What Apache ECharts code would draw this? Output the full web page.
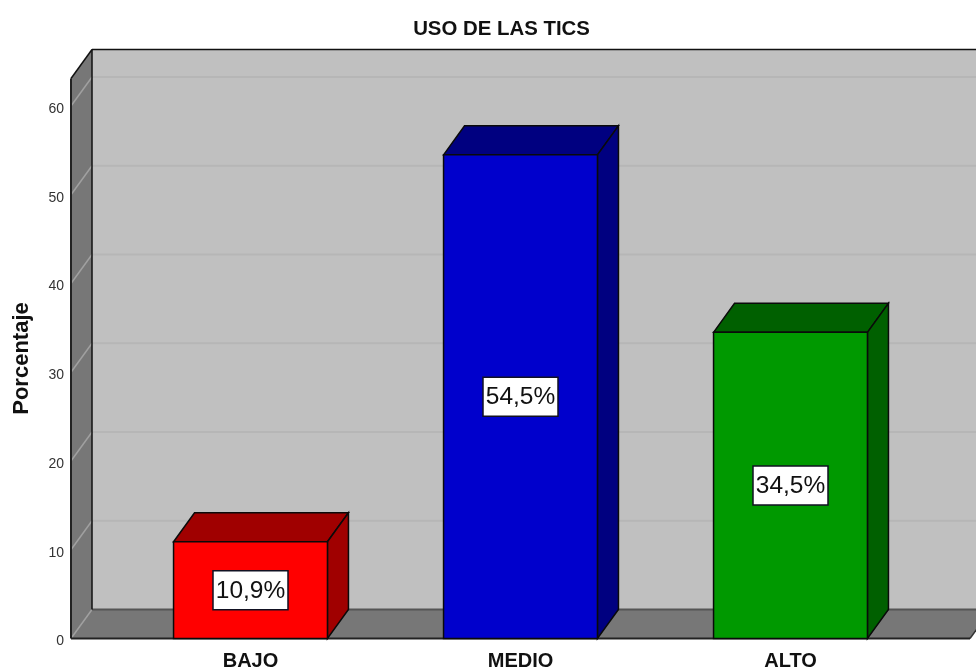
<!DOCTYPE html>
<html>
<head>
<meta charset="utf-8">
<style>html,body{margin:0;padding:0;background:#fff}#chart{width:976px;height:671px}</style>
<script src="https://cdn.jsdelivr.net/npm/echarts@6/dist/echarts.min.js"></script>
</head>
<body>
<div id="chart"></div>
<script>
const categories = ['BAJO', 'MEDIO', 'ALTO'];
const porcentajes = [10.9, 54.5, 34.5];
const etiquetas = ['10,9%', '54,5%', '34,5%'];
const yTicks = [0, 10, 20, 30, 40, 50, 60];
const yMax = 63.1;

// frente y techo/lateral de cada barra
const frontColors = ['#ff0000', '#0000cc', '#009900'];
const topColors = ['#a00000', '#000080', '#006000'];

const depthX = 21;
const depthY = -29;
const sideGap = 44.5; // el plano sobresale de las categorias

const poly = (points, fill, stroke, lineWidth) => ({
  type: 'polygon',
  shape: { points: points },
  style: { fill: fill, stroke: stroke || 'none', lineWidth: lineWidth || 0 }
});
const line = (a, b, stroke, lineWidth) => ({
  type: 'line',
  shape: { x1: a[0], y1: a[1], x2: b[0], y2: b[1] },
  style: { stroke: stroke, lineWidth: lineWidth }
});

const renderWalls = (params, api) => {
  const left = params.coordSys.x - sideGap;
  const right = params.coordSys.x + params.coordSys.width + sideGap;
  const y0 = api.coord([0, 0])[1];
  const yTop = api.coord([0, yMax])[1];
  const children = [
    poly([[left + depthX, yTop + depthY], [right + depthX, yTop + depthY], [right + depthX, y0 + depthY], [left + depthX, y0 + depthY]], '#c0c0c0'),
    poly([[left, yTop], [left + depthX, yTop + depthY], [left + depthX, y0 + depthY], [left, y0]], '#777777'),
    poly([[left, y0], [left + depthX, y0 + depthY], [right + depthX, y0 + depthY], [right, y0]], '#777777')
  ];
  yTicks.forEach((t) => {
    const y = api.coord([0, t])[1];
    if (t > 0) {
      children.push(line([left + depthX, y + depthY], [right + depthX, y + depthY], '#b6b6b6', 2));
    }
    children.push(line([left, y], [left + depthX, y + depthY], '#a0a0a0', 1.5));
  });
  children.push(
    line([left + depthX, y0 + depthY], [right + depthX, y0 + depthY], '#555555', 2),
    line([right, y0], [right + depthX, y0 + depthY], '#333333', 1.5),
    line([left, yTop], [left + depthX, yTop + depthY], '#111111', 1.5),
    line([left + depthX, yTop + depthY], [right + depthX, yTop + depthY], '#111111', 1.5),
    line([left + depthX, yTop + depthY], [left + depthX, y0 + depthY], '#111111', 1.5),
    line([left, yTop], [left, y0], '#222222', 2),
    line([left, y0], [right, y0], '#222222', 2)
  );
  return { type: 'group', children: children };
};

const renderBar = (params, api) => {
  const i = api.value(0);
  const top = api.coord([i, api.value(1)]);
  const base = api.coord([i, 0]);
  const half = api.size([1, 0])[0] * 0.57 / 2;
  const x1 = top[0] - half;
  const x2 = top[0] + half;
  const stroke = '#0a0a0a';
  return {
    type: 'group',
    children: [
      poly([[x1, top[1]], [x1 + depthX, top[1] + depthY], [x2 + depthX, top[1] + depthY], [x2, top[1]]], topColors[i], stroke, 1.5),
      poly([[x2, top[1]], [x2 + depthX, top[1] + depthY], [x2 + depthX, base[1] + depthY], [x2, base[1]]], topColors[i], stroke, 1.5),
      poly([[x1, top[1]], [x2, top[1]], [x2, base[1]], [x1, base[1]]], frontColors[i], stroke, 1.5),
      {
        type: 'rect',
        shape: { x: top[0] - 37.5, y: (top[1] + base[1]) / 2 - 19.5, width: 75, height: 39 },
        style: { fill: '#ffffff', stroke: '#111122', lineWidth: 1.5 }
      },
      {
        type: 'text',
        style: {
          x: top[0],
          y: (top[1] + base[1]) / 2 + 1,
          text: etiquetas[i],
          align: 'center',
          verticalAlign: 'middle',
          fontFamily: 'Liberation Sans',
          fontSize: 24.5,
          fill: '#111111'
        }
      }
    ]
  };
};

const option = {
  animation: false,
  backgroundColor: '#ffffff',
  title: {
    text: 'USO DE LAS TICS',
    left: 501.5,
    top: 19,
    padding: 0,
    textAlign: 'center',
    textStyle: { fontFamily: 'Liberation Sans', fontSize: 20.4, fontWeight: 'bold', color: '#111111' }
  },
  grid: { left: 115.5, top: 78.5, width: 810, height: 560, outerBoundsMode: 'none' },
  xAxis: {
    type: 'category',
    data: categories,
    axisLine: { show: false },
    axisTick: { show: false },
    splitLine: { show: false },
    axisLabel: { fontFamily: 'Liberation Sans', fontSize: 20, fontWeight: 'bold', color: '#111111', margin: 12.5 }
  },
  yAxis: {
    type: 'value',
    min: 0,
    max: yMax,
    interval: 10,
    offset: sideGap,
    name: 'Porcentaje',
    nameLocation: 'middle',
    nameGap: 38,
    nameTextStyle: { fontFamily: 'Liberation Sans', fontSize: 22, fontWeight: 'bold', color: '#111111' },
    axisLine: { show: false },
    axisTick: { show: false },
    splitLine: { show: false },
    axisLabel: {
      fontFamily: 'Liberation Sans',
      fontSize: 14,
      color: '#333333',
      margin: 7,
      verticalAlign: 'top',
      lineHeight: 6,
      showMaxLabel: false,
      formatter: (v) => (yTicks.includes(v) ? String(v) : '')
    }
  },
  series: [
    { type: 'custom', name: 'plano', clip: false, silent: true, z: 1, data: [0], renderItem: renderWalls },
    {
      type: 'custom',
      name: 'Porcentaje',
      clip: false,
      z: 2,
      encode: { x: 0, y: 1 },
      data: porcentajes.map((v, i) => [i, v]),
      renderItem: renderBar
    }
  ]
};

const myChart = echarts.init(document.getElementById('chart'), null, { renderer: 'canvas' });
myChart.setOption(option);
</script>
</body>
</html>
